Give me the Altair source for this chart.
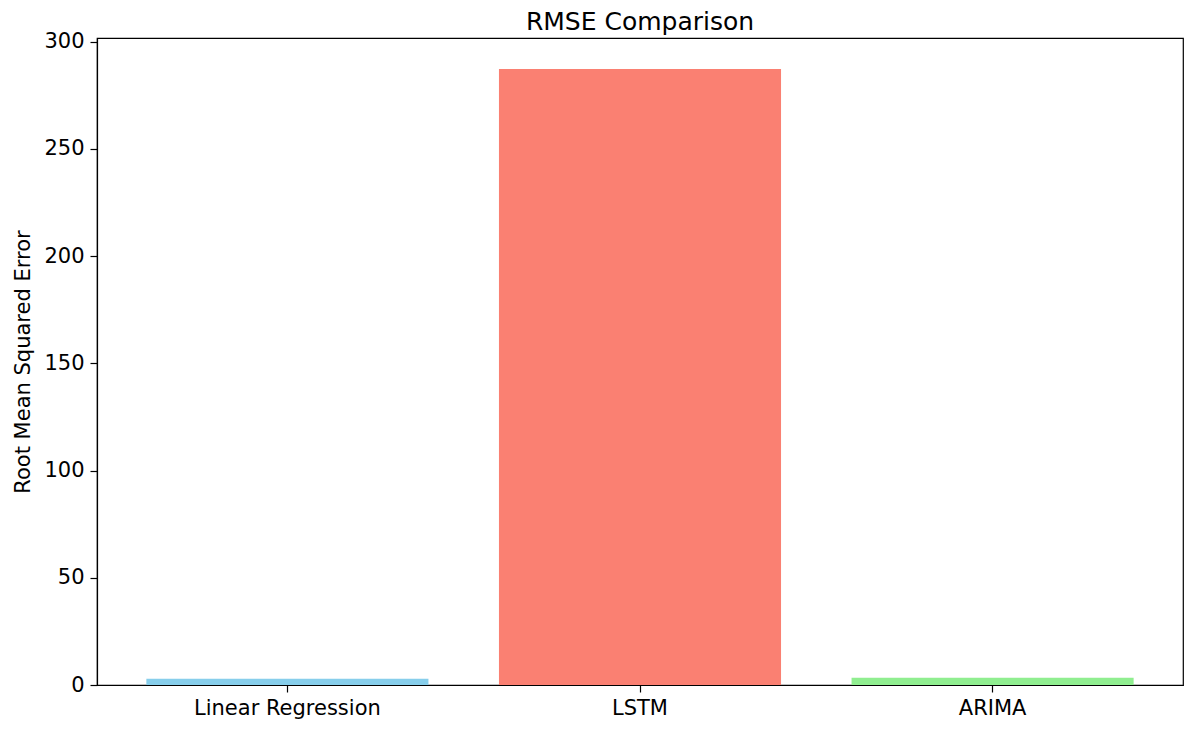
import altair as alt
import pandas as pd

models = ["Linear Regression", "LSTM", "ARIMA"]
rmse = [2.9, 287.3, 3.4]
colors = ["#87CEEB", "#FA8072", "#90EE90"]

df = pd.DataFrame({"Model": models, "RMSE": rmse})

chart = alt.Chart(df).mark_bar().encode(
    x=alt.X("Model:N", sort=models, title=None,
            scale=alt.Scale(paddingInner=0.2, paddingOuter=0.14),
            axis=alt.Axis(labelAngle=0, labelFontSize=21, labelColor="black",
                          tickColor="black", tickSize=7, labelPadding=5, labelLimit=0,
                          domainColor="black", labelFont="DejaVu Sans")),
    y=alt.Y("RMSE:Q", title="Root Mean Squared Error",
            scale=alt.Scale(domain=[0, 301.7], nice=False, zero=True),
            axis=alt.Axis(values=[0, 50, 100, 150, 200, 250, 300], grid=False,
                          labelFontSize=21, labelColor="black", tickColor="black",
                          tickSize=7, labelPadding=6, domainColor="black",
                          titleFontSize=21, titleFontWeight="normal", titleColor="black",
                          titlePadding=10, labelFont="DejaVu Sans", titleFont="DejaVu Sans")),
    color=alt.Color("Model:N", scale=alt.Scale(domain=models, range=colors), legend=None),
).properties(
    width=1086,
    height=647,
    title=alt.TitleParams("RMSE Comparison", fontSize=25, fontWeight="normal",
                          font="DejaVu Sans", color="black", offset=4, dy=8),
    autosize=alt.AutoSizeParams(type="none"),
    padding={"left": 89, "top": 30, "right": 1, "bottom": 38},
).configure_view(stroke="black", strokeWidth=1.2).configure_axis(domainWidth=1.2, tickWidth=1.2)

chart.save("out.html", embed_options={"renderer": "svg", "actions": False})
